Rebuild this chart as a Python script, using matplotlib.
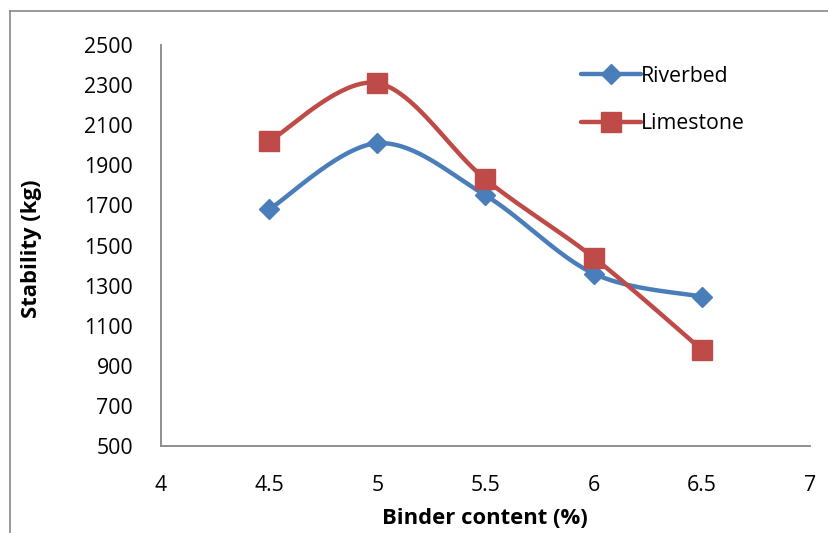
import numpy as np
import matplotlib
matplotlib.use("Agg")
import matplotlib.pyplot as plt
from matplotlib.lines import Line2D

binder = [4.5, 5.0, 5.5, 6.0, 6.5]
riverbed = [1680, 2010, 1750, 1360, 1245]
limestone = [2020, 2310, 1830, 1440, 980]
xticks = [4, 4.5, 5, 5.5, 6, 6.5, 7]
yticks = list(range(500, 2501, 200))

plt.rcParams['font.family'] = ['Open Sans', 'DejaVu Sans']

def smooth(xs, ys, n=40):
    P = np.column_stack([xs, ys]).astype(float)
    P = np.vstack([P[0], P, P[-1]])
    out = []
    for i in range(1, len(P) - 2):
        p0, p1, p2, p3 = P[i - 1], P[i], P[i + 1], P[i + 2]
        c1 = p1 + (p2 - p0) / 6
        c2 = p2 - (p3 - p1) / 6
        t = np.linspace(0, 1, n)[:, None]
        seg = (1 - t) ** 3 * p1 + 3 * (1 - t) ** 2 * t * c1 + 3 * (1 - t) * t ** 2 * c2 + t ** 3 * p2
        out.append(seg if i == 1 else seg[1:])
    s = np.vstack(out)
    return s[:, 0], s[:, 1]

W, H = 829, 533
fig = plt.figure(figsize=(W / 100, H / 100), dpi=100)
ax = fig.add_axes([161 / W, 1 - 446 / H, (810 - 161) / W, (446 - 45) / H])

blue = '#4A7EBB'
red = '#BE4B48'

sx, sy = smooth(binder, riverbed)
ax.plot(sx, sy, color=blue, lw=3.2, solid_capstyle='round', zorder=3)
ax.plot(binder, riverbed, ls='none', marker='D', ms=10.5, color=blue, mec=blue, zorder=4)
sx, sy = smooth(binder, limestone)
ax.plot(sx, sy, color=red, lw=3.2, solid_capstyle='round', zorder=3)
ax.plot(binder, limestone, ls='none', marker='s', ms=14, color=red, mec=red, zorder=4)

ax.set_xlim(4, 7)
ax.set_ylim(500, 2500)
ax.set_xticks(xticks)
ax.set_xticklabels(['4', '4.5', '5', '5.5', '6', '6.5', '7'])
ax.set_yticks(yticks)
ax.tick_params(axis='both', length=0, labelsize=15.3, colors='black')
ax.tick_params(axis='y', pad=20)
ax.tick_params(axis='x', pad=21)
for s in ['top', 'right']:
    ax.spines[s].set_visible(False)
for s in ['left', 'bottom']:
    ax.spines[s].set_color('#868686')
    ax.spines[s].set_linewidth(1.3)

fig.text(485 / W, 1 - 518 / H, 'Binder content (%)', ha='center', va='center',
         fontsize=15.8, fontweight='bold')
fig.text(32 / W, 1 - 249 / H, 'Stability (kg)', ha='center', va='center',
         rotation=90, fontsize=15.8, fontweight='bold')

handles = [Line2D([], [], color=blue, lw=3.2, marker='D', ms=10.5, solid_capstyle='round'),
           Line2D([], [], color=red, lw=3.2, marker='s', ms=14, solid_capstyle='round')]
leg = fig.legend(handles, ['Riverbed', 'Limestone'], loc='upper left',
                 bbox_to_anchor=(573 / W, 1 - 57 / H), frameon=False, fontsize=15.3,
                 handlelength=2.8, handletextpad=0.0, labelspacing=1.25, borderaxespad=0)

fig.add_artist(Line2D([10.5 / W, 10.5 / W], [0, 1 - 10.5 / H], color='#888888', lw=1.2))
fig.add_artist(Line2D([10.5 / W, 1], [1 - 10.5 / H, 1 - 10.5 / H], color='#888888', lw=1.2))

fig.savefig('out.png', dpi=100)
